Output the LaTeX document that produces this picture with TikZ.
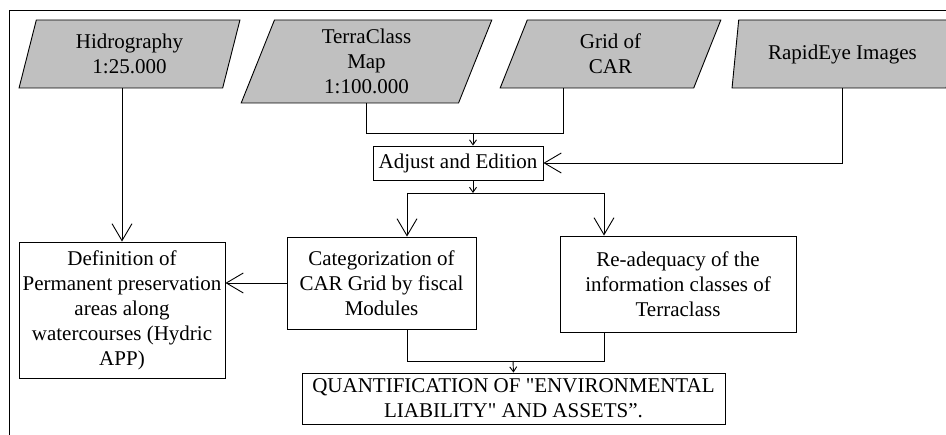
\documentclass[tikz,border=0pt]{standalone}
\usepackage{fontspec}
\setmainfont{Liberation Serif}
\usetikzlibrary{shapes.geometric,arrows.meta,calc}
\definecolor{silver}{HTML}{C0C0C0}

\begin{document}
\begin{tikzpicture}[x=1pt, y=-1pt, line width=0.9pt,
	font=\fontsize{21}{25}\selectfont,
	inbox/.style={trapezium, trapezium left angle=76, trapezium right angle=104,
		trapezium stretches=true, draw, fill=silver, align=center,
		minimum width=221, minimum height=68, inner sep=0pt},
	procbox/.style={draw, align=center, inner sep=0pt},
	bigtip/.style={-{Straight Barb[length=17pt, width=20pt]}},
	smalltip/.style={-{Straight Barb[length=5pt, width=7pt]}}]
	\useasboundingbox (0,0) rectangle (946,435);
	\clip (0,0) rectangle (946,435);

	\draw (9,440) -- (9,10.5) -- (950,10.5);

	\node[inbox] (hidro) at (129.5,54) {Hidrography\\1:25.000};
	\node[inbox, minimum width=251, minimum height=83] (terra) at (366.5,61.5) {TerraClass\\Map\\1:100.000};
	\node[inbox] (grid) at (610.5,54) {Grid of\\CAR};
	\node[inbox] (rapid) at (842.5,54) {RapidEye Images};

	\node[procbox, minimum width=170, minimum height=34] (adjust) at (458,163) {Adjust and Edition};
	\node[procbox, minimum width=206, minimum height=136] (defn) at (122,310)
		{Definition of\\Permanent preservation\\areas along\\watercourses (Hydric\\APP)};
	\node[procbox, minimum width=189, minimum height=92] (categ) at (381.5,283)
		{Categorization of\\CAR Grid by fiscal\\Modules};
	\node[procbox, minimum width=236, minimum height=96] (readeq) at (678,284)
		{Re-adequacy of the\\information classes of\\Terraclass};
	\node[procbox, minimum width=423, minimum height=51] (quant) at (513.5,398.5)
		{QUANTIFICATION OF \textquotedbl ENVIRONMENTAL\\LIABILITY\textquotedbl{} AND ASSETS”.};

	\coordinate (j1) at (473,133);
	\coordinate (b1) at (407,193);
	\coordinate (b2) at (604,193);
	\coordinate (j3) at (513,361);

	\draw (terra.south) |- (j1);
	\draw ($(grid.south)+(-47,0)$) |- (j1);
	\draw[smalltip] (j1) -- (j1 |- adjust.north);
	\draw[bigtip] (rapid.south) |- (adjust.east);
	\draw[smalltip] (adjust.south -| j1) -- (j1 |- b1);
	\draw (b1) -- (b2);
	\draw[bigtip] (b1) -- (b1 |- categ.north);
	\draw[bigtip] (b2) -- (b2 |- readeq.north);
	\draw[bigtip] (hidro.south -| defn.north) -- (defn.north);
	\draw[bigtip] (categ.west) -- (categ.west -| defn.east);
	\draw (b1 |- categ.south) |- (j3);
	\draw (b2 |- readeq.south) |- (j3);
	\draw[smalltip] (j3) -- (quant.north);
\end{tikzpicture}
\end{document}
